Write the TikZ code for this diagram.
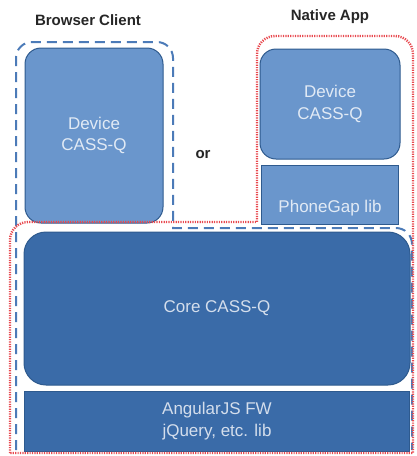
\documentclass[tikz,border=0pt]{standalone}
\usepackage{fontspec}
\setmainfont{Liberation Sans}
\usetikzlibrary{positioning}
\definecolor{devfill}{HTML}{6A96CC}
\definecolor{corefill}{HTML}{3A6BA8}
\definecolor{boxline}{HTML}{2E5A8E}
\definecolor{dashblue}{HTML}{4C7BB8}
\definecolor{dotred}{HTML}{E84A50}
\tikzset{node distance=5pt, auto,
  box/.style={draw=boxline, line width=1pt, align=center, inner sep=0pt,
    font=\fontsize{17}{21.5}\selectfont},
  devbox/.style={box, fill=devfill, text=white!80!devfill},
  corebox/.style={box, fill=corefill, text=white!78!corefill},
  title/.style={font=\bfseries\fontsize{15}{18}\selectfont, text=black!85}}

\begin{document}
\begin{tikzpicture}[x=1pt,y=-1pt]
  \useasboundingbox (0,0) rectangle (417,456);
  % browser side
  \node (bdev) [devbox, rounded corners=16pt, minimum width=138pt, minimum height=175pt]
    at (94,135.5) {Device\\CASS-Q};
  \node (or) [title] at (203,155) {or};
  % native side
  \node (ndev) [devbox, rounded corners=16pt, minimum width=140pt, minimum height=110pt]
    at (330,104) {Device\\CASS-Q};
  \node (gap) [devbox, minimum width=137pt, minimum height=59pt,
    text height=40pt, text depth=5pt, below=of ndev] {PhoneGap lib};
  % shared part
  \node (core) [corebox, rounded corners=22pt, minimum width=386pt, minimum height=153pt]
    at (217,308.5) {Core CASS-Q};
  \node (ang) [corebox, minimum width=385pt, minimum height=60pt, below=of core]
    {AngularJS FW\\jQuery, etc. lib};
  \node (bcl) [title] at (88,20) {Browser Client};
  \node (nap) [title] at (330,17) {Native App};
  % outlines
  \draw[dashblue, line width=2pt, dash pattern=on 10pt off 6pt]
    (16,450) [rounded corners=16pt] -- (16,42) -- (173,42) [sharp corners] -- (173,228)
    [rounded corners=16pt] -- (412,228) -- (412,450);
  \draw[dotred, line width=2.4pt, dash pattern=on 1.2pt off 1.2pt]
    (10,453) [rounded corners=18pt] -- (10,222) [sharp corners] -- (257,222)
    [rounded corners=18pt] -- (257,36) -- (413,36) [sharp corners] -- (413,453) -- cycle;
\end{tikzpicture}
\end{document}
